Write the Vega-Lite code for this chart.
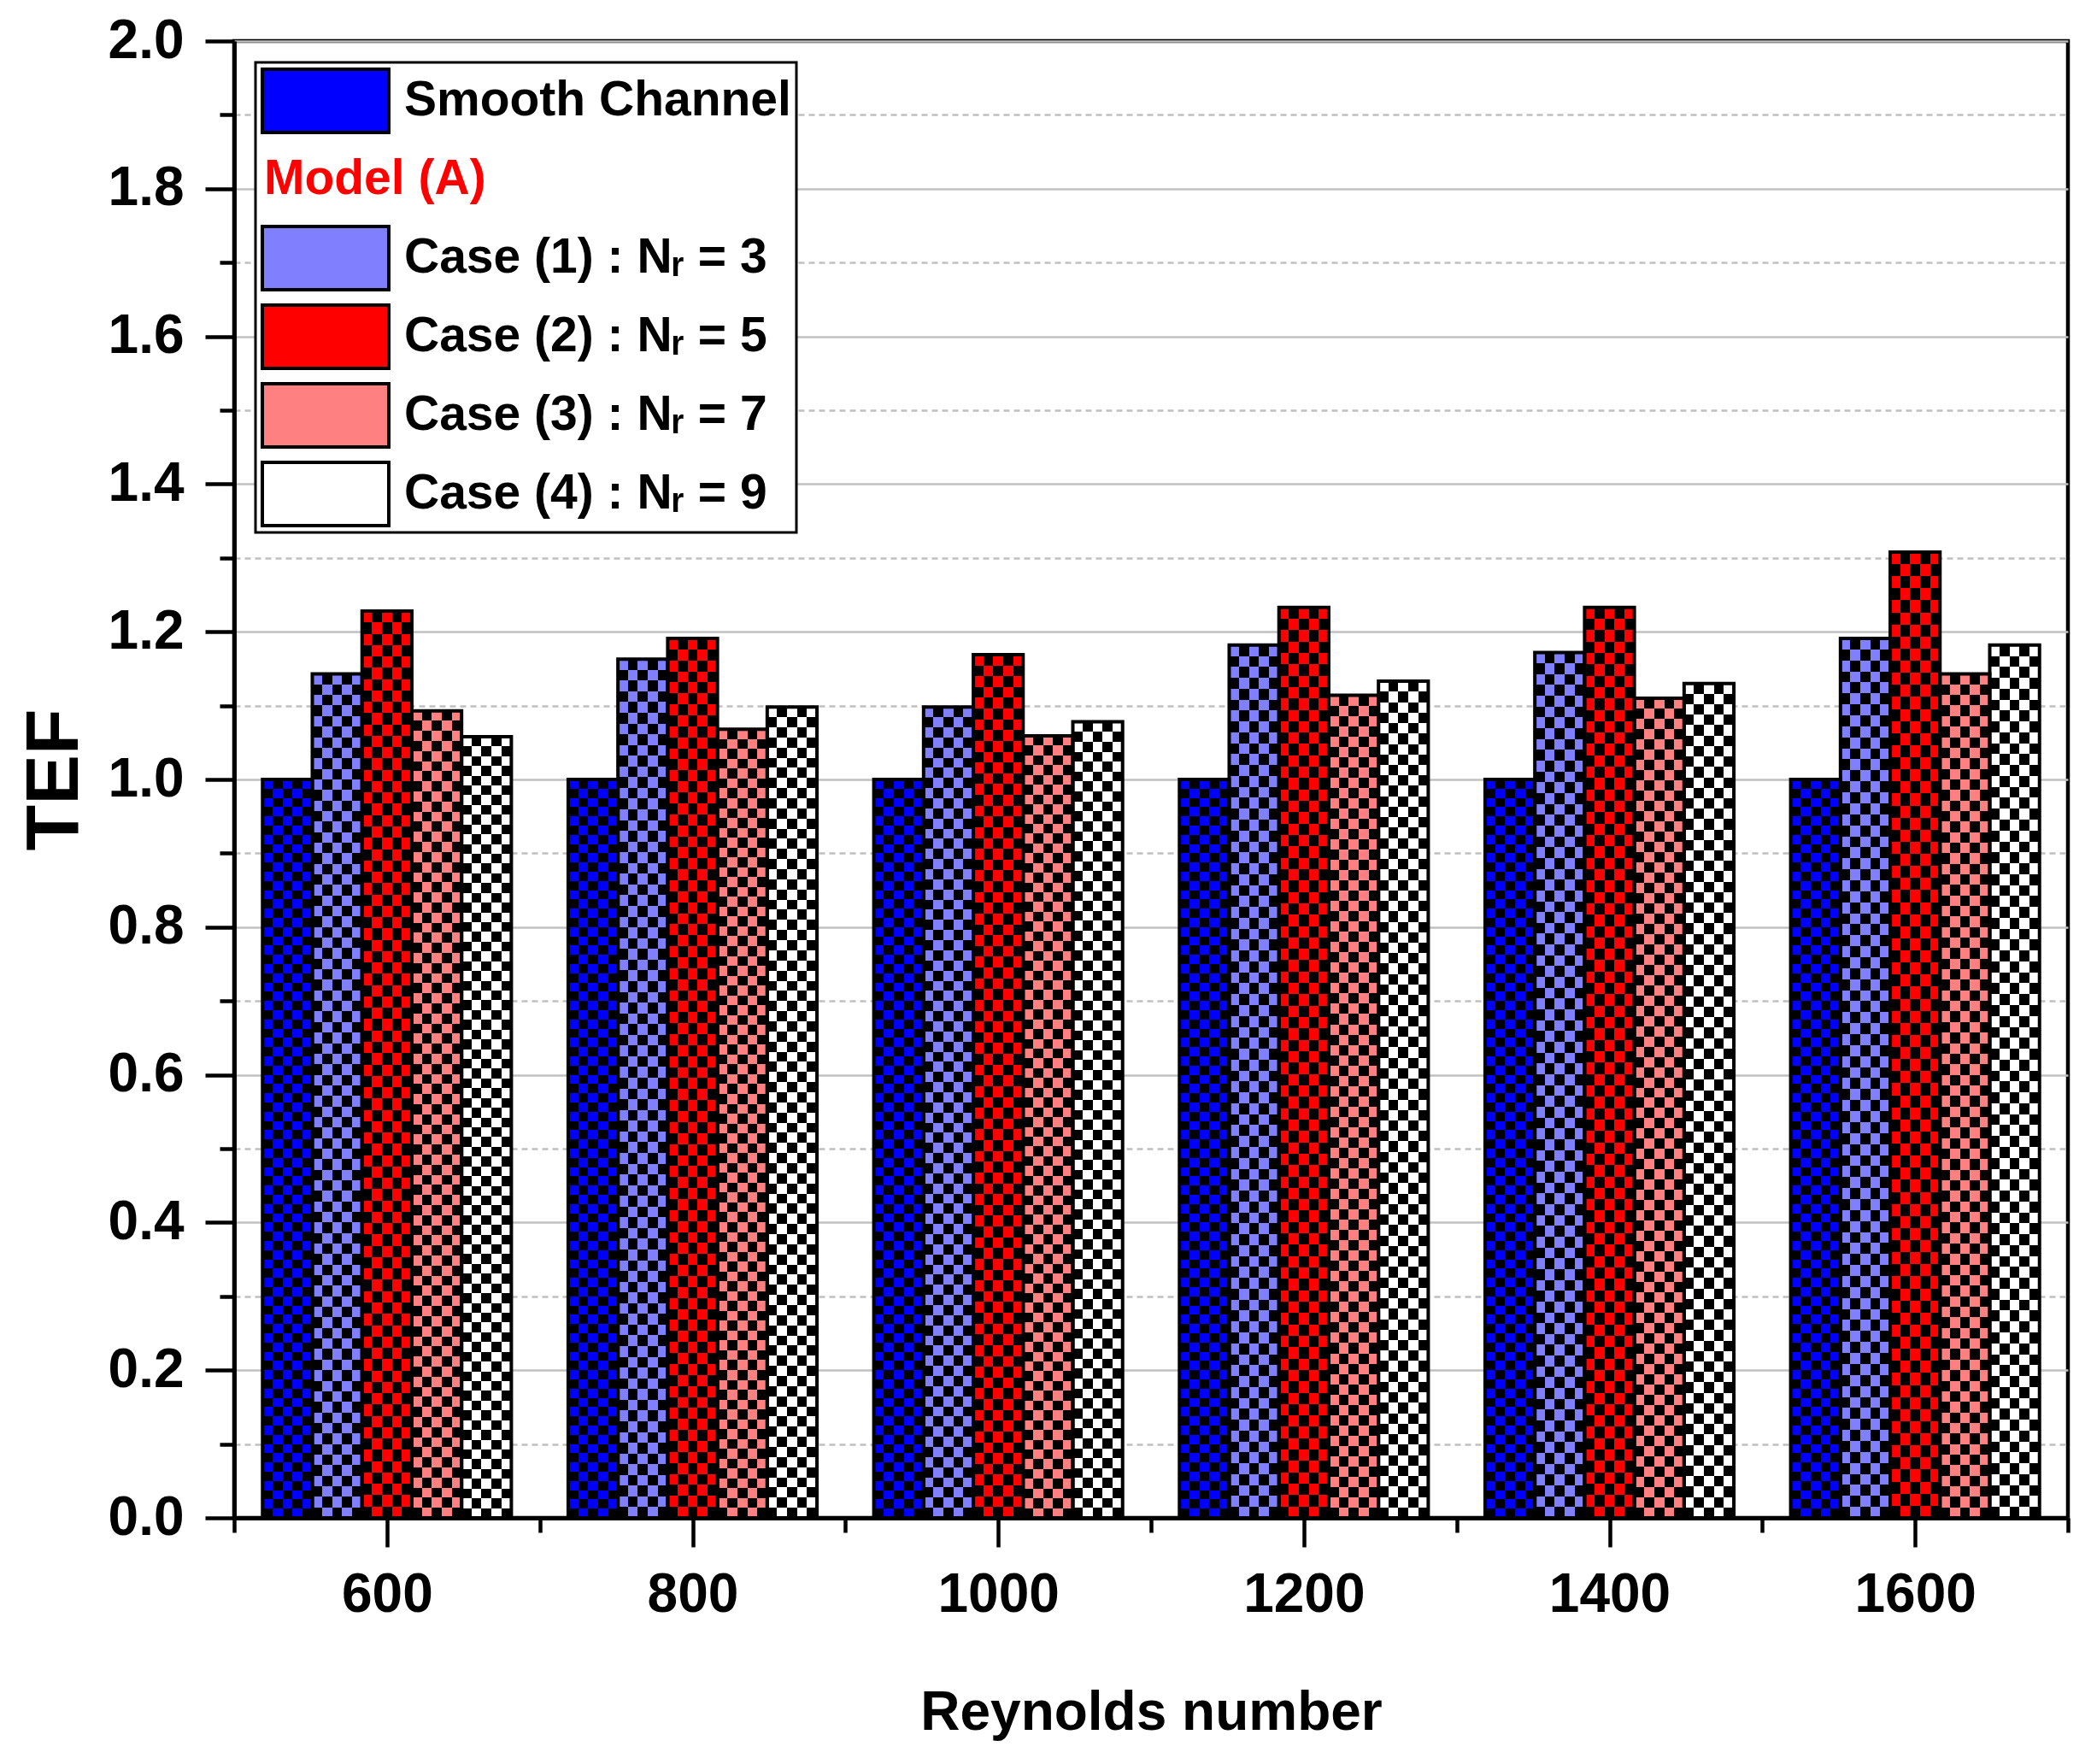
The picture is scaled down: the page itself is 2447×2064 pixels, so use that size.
{
  "$schema": "https://vega.github.io/schema/vega-lite/v6.json",
  "width": 2146,
  "height": 1728,
  "autosize": {"type": "none"},
  "padding": {"left": 274, "top": 48, "right": 27, "bottom": 288},
  "background": "white",
  "config": {
    "font": "Liberation Sans",
    "view": {"stroke": "black", "strokeWidth": 4.5}
  },
  "data": {
    "values": [
      {"Re": 600, "series": "Smooth Channel", "TEF": 1.0},
      {"Re": 600, "series": "Case (1) : Nᵣ = 3", "TEF": 1.143},
      {"Re": 600, "series": "Case (2) : Nᵣ = 5", "TEF": 1.228},
      {"Re": 600, "series": "Case (3) : Nᵣ = 7", "TEF": 1.093},
      {"Re": 600, "series": "Case (4) : Nᵣ = 9", "TEF": 1.058},
      {"Re": 800, "series": "Smooth Channel", "TEF": 1.0},
      {"Re": 800, "series": "Case (1) : Nᵣ = 3", "TEF": 1.163},
      {"Re": 800, "series": "Case (2) : Nᵣ = 5", "TEF": 1.191},
      {"Re": 800, "series": "Case (3) : Nᵣ = 7", "TEF": 1.068},
      {"Re": 800, "series": "Case (4) : Nᵣ = 9", "TEF": 1.098},
      {"Re": 1000, "series": "Smooth Channel", "TEF": 1.0},
      {"Re": 1000, "series": "Case (1) : Nᵣ = 3", "TEF": 1.098},
      {"Re": 1000, "series": "Case (2) : Nᵣ = 5", "TEF": 1.169},
      {"Re": 1000, "series": "Case (3) : Nᵣ = 7", "TEF": 1.059},
      {"Re": 1000, "series": "Case (4) : Nᵣ = 9", "TEF": 1.078},
      {"Re": 1200, "series": "Smooth Channel", "TEF": 1.0},
      {"Re": 1200, "series": "Case (1) : Nᵣ = 3", "TEF": 1.182},
      {"Re": 1200, "series": "Case (2) : Nᵣ = 5", "TEF": 1.233},
      {"Re": 1200, "series": "Case (3) : Nᵣ = 7", "TEF": 1.114},
      {"Re": 1200, "series": "Case (4) : Nᵣ = 9", "TEF": 1.133},
      {"Re": 1400, "series": "Smooth Channel", "TEF": 1.0},
      {"Re": 1400, "series": "Case (1) : Nᵣ = 3", "TEF": 1.172},
      {"Re": 1400, "series": "Case (2) : Nᵣ = 5", "TEF": 1.233},
      {"Re": 1400, "series": "Case (3) : Nᵣ = 7", "TEF": 1.11},
      {"Re": 1400, "series": "Case (4) : Nᵣ = 9", "TEF": 1.13},
      {"Re": 1600, "series": "Smooth Channel", "TEF": 1.0},
      {"Re": 1600, "series": "Case (1) : Nᵣ = 3", "TEF": 1.191},
      {"Re": 1600, "series": "Case (2) : Nᵣ = 5", "TEF": 1.308},
      {"Re": 1600, "series": "Case (3) : Nᵣ = 7", "TEF": 1.143},
      {"Re": 1600, "series": "Case (4) : Nᵣ = 9", "TEF": 1.182}
    ]
  },
  "encoding": {
    "y": {"field": "TEF", "type": "quantitative", "scale": {"domain": [0, 2], "nice": false}, "axis": null}
  },
  "layer": [
    {
      "mark": {"type": "point", "opacity": 0},
      "encoding": {
        "x": {
          "field": "Re",
          "type": "quantitative",
          "scale": {"domain": [500, 1700], "nice": false, "zero": false},
          "axis": {
            "orient": "bottom",
            "values": [500, 700, 900, 1100, 1300, 1500, 1700],
            "labels": false,
            "domain": false,
            "grid": false,
            "title": null,
            "tickSize": 17,
            "tickWidth": 4.5,
            "tickColor": "black"
          }
        },
        "y": {
          "field": "TEF",
          "type": "quantitative",
          "scale": {"domain": [0, 2], "nice": false},
          "axis": {
            "orient": "left",
            "values": [0.1, 0.3, 0.5, 0.7, 0.9, 1.1, 1.3, 1.5, 1.7, 1.9],
            "labels": false,
            "domain": false,
            "title": null,
            "tickSize": 17,
            "tickWidth": 4.5,
            "tickColor": "black",
            "grid": true,
            "gridColor": "#c0c0c0",
            "gridWidth": 2.5,
            "gridDash": [7, 5]
          }
        }
      }
    },
    {
      "mark": {"type": "point", "opacity": 0},
      "encoding": {
        "x": {
          "field": "Re",
          "type": "quantitative",
          "scale": {"domain": [500, 1700], "nice": false, "zero": false},
          "axis": {
            "orient": "bottom",
            "values": [600, 800, 1000, 1200, 1400, 1600],
            "format": "d",
            "labelOverlap": false,
            "labelFlush": false,
            "labelFont": "Liberation Sans",
            "labelFontSize": 64,
            "labelFontWeight": "bold",
            "labelColor": "black",
            "labelPadding": 24,
            "tickSize": 34,
            "tickWidth": 4.5,
            "tickColor": "black",
            "domainColor": "black",
            "domainWidth": 5,
            "grid": false,
            "title": "Reynolds number",
            "titleFont": "Liberation Sans",
            "titleFontSize": 64,
            "titleFontWeight": "bold",
            "titleColor": "black",
            "titleBaseline": "alphabetic",
            "titleY": 247
          }
        },
        "y": {
          "field": "TEF",
          "type": "quantitative",
          "scale": {"domain": [0, 2], "nice": false},
          "axis": {
            "orient": "left",
            "values": [0, 0.2, 0.4, 0.6, 0.8, 1, 1.2, 1.4, 1.6, 1.8, 2],
            "format": ".1f",
            "labelOverlap": false,
            "labelFont": "Liberation Sans",
            "labelFontSize": 64,
            "labelFontWeight": "bold",
            "labelColor": "black",
            "labelPadding": 25,
            "tickSize": 34,
            "tickWidth": 4.5,
            "tickColor": "black",
            "domainColor": "black",
            "domainWidth": 5,
            "grid": true,
            "gridColor": "#c0c0c0",
            "gridWidth": 2.5,
            "title": "TEF",
            "titleFont": "Liberation Sans",
            "titleFontSize": 88,
            "titleFontWeight": "bold",
            "titleColor": "black",
            "titleBaseline": "alphabetic",
            "titleX": -184,
            "titleY": 864
          }
        }
      }
    },
    {
      "mark": {
        "type": "bar",
        "fill": {
          "gradient": "linear", "x1": 0, "y1": 0, "x2": 1, "y2": 0,
          "stops": [
            {"offset": 0, "color": "#fff"}, {"offset": 0.2, "color": "#fff"},
            {"offset": 0.2, "color": "#000"}, {"offset": 0.4, "color": "#000"},
            {"offset": 0.4, "color": "#fff"}, {"offset": 0.6, "color": "#fff"},
            {"offset": 0.6, "color": "#000"}, {"offset": 0.8, "color": "#000"},
            {"offset": 0.8, "color": "#fff"}, {"offset": 1, "color": "#fff"}
          ]
        }
      },
      "encoding": {
        "x": {"field": "Re", "type": "ordinal", "scale": {"paddingInner": 0.186, "paddingOuter": 0.093}, "axis": null},
        "xOffset": {"field": "series", "type": "nominal", "scale": {"domain": ["Smooth Channel", "Case (1) : Nᵣ = 3", "Case (2) : Nᵣ = 5", "Case (3) : Nᵣ = 7", "Case (4) : Nᵣ = 9"], "paddingInner": 0, "paddingOuter": 0}}
      }
    },
    {
      "mark": {
        "type": "bar",
        "blend": "difference",
        "fill": {
          "gradient": "linear", "x1": 0, "y1": 0, "x2": 0, "y2": 1,
          "stops": [
            {"offset": 0, "color": "#000"},
            {"offset": 0.0125, "color": "#000"}, {"offset": 0.0125, "color": "#fff"},
            {"offset": 0.025, "color": "#fff"}, {"offset": 0.025, "color": "#000"},
            {"offset": 0.0375, "color": "#000"}, {"offset": 0.0375, "color": "#fff"},
            {"offset": 0.05, "color": "#fff"}, {"offset": 0.05, "color": "#000"},
            {"offset": 0.0625, "color": "#000"}, {"offset": 0.0625, "color": "#fff"},
            {"offset": 0.075, "color": "#fff"}, {"offset": 0.075, "color": "#000"},
            {"offset": 0.0875, "color": "#000"}, {"offset": 0.0875, "color": "#fff"},
            {"offset": 0.1, "color": "#fff"}, {"offset": 0.1, "color": "#000"},
            {"offset": 0.1125, "color": "#000"}, {"offset": 0.1125, "color": "#fff"},
            {"offset": 0.125, "color": "#fff"}, {"offset": 0.125, "color": "#000"},
            {"offset": 0.1375, "color": "#000"}, {"offset": 0.1375, "color": "#fff"},
            {"offset": 0.15, "color": "#fff"}, {"offset": 0.15, "color": "#000"},
            {"offset": 0.1625, "color": "#000"}, {"offset": 0.1625, "color": "#fff"},
            {"offset": 0.175, "color": "#fff"}, {"offset": 0.175, "color": "#000"},
            {"offset": 0.1875, "color": "#000"}, {"offset": 0.1875, "color": "#fff"},
            {"offset": 0.2, "color": "#fff"}, {"offset": 0.2, "color": "#000"},
            {"offset": 0.2125, "color": "#000"}, {"offset": 0.2125, "color": "#fff"},
            {"offset": 0.225, "color": "#fff"}, {"offset": 0.225, "color": "#000"},
            {"offset": 0.2375, "color": "#000"}, {"offset": 0.2375, "color": "#fff"},
            {"offset": 0.25, "color": "#fff"}, {"offset": 0.25, "color": "#000"},
            {"offset": 0.2625, "color": "#000"}, {"offset": 0.2625, "color": "#fff"},
            {"offset": 0.275, "color": "#fff"}, {"offset": 0.275, "color": "#000"},
            {"offset": 0.2875, "color": "#000"}, {"offset": 0.2875, "color": "#fff"},
            {"offset": 0.3, "color": "#fff"}, {"offset": 0.3, "color": "#000"},
            {"offset": 0.3125, "color": "#000"}, {"offset": 0.3125, "color": "#fff"},
            {"offset": 0.325, "color": "#fff"}, {"offset": 0.325, "color": "#000"},
            {"offset": 0.3375, "color": "#000"}, {"offset": 0.3375, "color": "#fff"},
            {"offset": 0.35, "color": "#fff"}, {"offset": 0.35, "color": "#000"},
            {"offset": 0.3625, "color": "#000"}, {"offset": 0.3625, "color": "#fff"},
            {"offset": 0.375, "color": "#fff"}, {"offset": 0.375, "color": "#000"},
            {"offset": 0.3875, "color": "#000"}, {"offset": 0.3875, "color": "#fff"},
            {"offset": 0.4, "color": "#fff"}, {"offset": 0.4, "color": "#000"},
            {"offset": 0.4125, "color": "#000"}, {"offset": 0.4125, "color": "#fff"},
            {"offset": 0.425, "color": "#fff"}, {"offset": 0.425, "color": "#000"},
            {"offset": 0.4375, "color": "#000"}, {"offset": 0.4375, "color": "#fff"},
            {"offset": 0.45, "color": "#fff"}, {"offset": 0.45, "color": "#000"},
            {"offset": 0.4625, "color": "#000"}, {"offset": 0.4625, "color": "#fff"},
            {"offset": 0.475, "color": "#fff"}, {"offset": 0.475, "color": "#000"},
            {"offset": 0.4875, "color": "#000"}, {"offset": 0.4875, "color": "#fff"},
            {"offset": 0.5, "color": "#fff"}, {"offset": 0.5, "color": "#000"},
            {"offset": 0.5125, "color": "#000"}, {"offset": 0.5125, "color": "#fff"},
            {"offset": 0.525, "color": "#fff"}, {"offset": 0.525, "color": "#000"},
            {"offset": 0.5375, "color": "#000"}, {"offset": 0.5375, "color": "#fff"},
            {"offset": 0.55, "color": "#fff"}, {"offset": 0.55, "color": "#000"},
            {"offset": 0.5625, "color": "#000"}, {"offset": 0.5625, "color": "#fff"},
            {"offset": 0.575, "color": "#fff"}, {"offset": 0.575, "color": "#000"},
            {"offset": 0.5875, "color": "#000"}, {"offset": 0.5875, "color": "#fff"},
            {"offset": 0.6, "color": "#fff"}, {"offset": 0.6, "color": "#000"},
            {"offset": 0.6125, "color": "#000"}, {"offset": 0.6125, "color": "#fff"},
            {"offset": 0.625, "color": "#fff"}, {"offset": 0.625, "color": "#000"},
            {"offset": 0.6375, "color": "#000"}, {"offset": 0.6375, "color": "#fff"},
            {"offset": 0.65, "color": "#fff"}, {"offset": 0.65, "color": "#000"},
            {"offset": 0.6625, "color": "#000"}, {"offset": 0.6625, "color": "#fff"},
            {"offset": 0.675, "color": "#fff"}, {"offset": 0.675, "color": "#000"},
            {"offset": 0.6875, "color": "#000"}, {"offset": 0.6875, "color": "#fff"},
            {"offset": 0.7, "color": "#fff"}, {"offset": 0.7, "color": "#000"},
            {"offset": 0.7125, "color": "#000"}, {"offset": 0.7125, "color": "#fff"},
            {"offset": 0.725, "color": "#fff"}, {"offset": 0.725, "color": "#000"},
            {"offset": 0.7375, "color": "#000"}, {"offset": 0.7375, "color": "#fff"},
            {"offset": 0.75, "color": "#fff"}, {"offset": 0.75, "color": "#000"},
            {"offset": 0.7625, "color": "#000"}, {"offset": 0.7625, "color": "#fff"},
            {"offset": 0.775, "color": "#fff"}, {"offset": 0.775, "color": "#000"},
            {"offset": 0.7875, "color": "#000"}, {"offset": 0.7875, "color": "#fff"},
            {"offset": 0.8, "color": "#fff"}, {"offset": 0.8, "color": "#000"},
            {"offset": 0.8125, "color": "#000"}, {"offset": 0.8125, "color": "#fff"},
            {"offset": 0.825, "color": "#fff"}, {"offset": 0.825, "color": "#000"},
            {"offset": 0.8375, "color": "#000"}, {"offset": 0.8375, "color": "#fff"},
            {"offset": 0.85, "color": "#fff"}, {"offset": 0.85, "color": "#000"},
            {"offset": 0.8625, "color": "#000"}, {"offset": 0.8625, "color": "#fff"},
            {"offset": 0.875, "color": "#fff"}, {"offset": 0.875, "color": "#000"},
            {"offset": 0.8875, "color": "#000"}, {"offset": 0.8875, "color": "#fff"},
            {"offset": 0.9, "color": "#fff"}, {"offset": 0.9, "color": "#000"},
            {"offset": 0.9125, "color": "#000"}, {"offset": 0.9125, "color": "#fff"},
            {"offset": 0.925, "color": "#fff"}, {"offset": 0.925, "color": "#000"},
            {"offset": 0.9375, "color": "#000"}, {"offset": 0.9375, "color": "#fff"},
            {"offset": 0.95, "color": "#fff"}, {"offset": 0.95, "color": "#000"},
            {"offset": 0.9625, "color": "#000"}, {"offset": 0.9625, "color": "#fff"},
            {"offset": 0.975, "color": "#fff"}, {"offset": 0.975, "color": "#000"},
            {"offset": 0.9875, "color": "#000"}, {"offset": 0.9875, "color": "#fff"},
            {"offset": 1, "color": "#fff"}
          ]
        }
      },
      "encoding": {
        "x": {"field": "Re", "type": "ordinal", "scale": {"paddingInner": 0.186, "paddingOuter": 0.093}, "axis": null},
        "xOffset": {"field": "series", "type": "nominal", "scale": {"domain": ["Smooth Channel", "Case (1) : Nᵣ = 3", "Case (2) : Nᵣ = 5", "Case (3) : Nᵣ = 7", "Case (4) : Nᵣ = 9"], "paddingInner": 0, "paddingOuter": 0}}
      }
    },
    {
      "mark": {"type": "bar", "blend": "multiply"},
      "encoding": {
        "x": {"field": "Re", "type": "ordinal", "scale": {"paddingInner": 0.186, "paddingOuter": 0.093}, "axis": null},
        "xOffset": {"field": "series", "type": "nominal", "scale": {"domain": ["Smooth Channel", "Case (1) : Nᵣ = 3", "Case (2) : Nᵣ = 5", "Case (3) : Nᵣ = 7", "Case (4) : Nᵣ = 9"], "paddingInner": 0, "paddingOuter": 0}},
        "color": {
          "field": "series",
          "type": "nominal",
          "scale": {
            "domain": ["Smooth Channel", "Model (A)", "Case (1) : Nᵣ = 3", "Case (2) : Nᵣ = 5", "Case (3) : Nᵣ = 7", "Case (4) : Nᵣ = 9"],
            "range": ["#0000ff", "transparent", "#8080ff", "#ff0000", "#ff8080", "#ffffff"]
          },
          "legend": {
            "title": null,
            "orient": "top-left",
            "offset": 25,
            "padding": 6,
            "fillColor": "white",
            "strokeColor": "black",
            "symbolType": "M-1,-0.5H1V0.5H-1Z",
            "symbolSize": 21904,
            "symbolStrokeColor": "black",
            "symbolStrokeWidth": 4,
            "symbolOpacity": 1,
            "clipHeight": 78,
            "rowPadding": 14,
            "labelFont": "Liberation Sans",
            "labelFontSize": 57,
            "labelFontWeight": "bold",
            "labelColor": "black",
            "labelOffset": 16,
            "labelLimit": 1000,
            "encode": {
              "legend": {"update": {"strokeWidth": {"value": 3}}},
              "symbols": {"update": {
                "stroke": {"signal": "datum.value === 'Model (A)' ? 'transparent' : 'black'"}
              }},
              "labels": {"update": {
                "fill": {"signal": "datum.value === 'Model (A)' ? '#ff0000' : '#000000'"},
                "dx": {"signal": "datum.value === 'Model (A)' ? -164 : 0"}
              }}
            }
          }
        }
      }
    },
    {
      "mark": {"type": "bar", "fill": "transparent", "stroke": "black", "strokeWidth": 4},
      "encoding": {
        "x": {"field": "Re", "type": "ordinal", "scale": {"paddingInner": 0.186, "paddingOuter": 0.093}, "axis": null},
        "xOffset": {"field": "series", "type": "nominal", "scale": {"domain": ["Smooth Channel", "Case (1) : Nᵣ = 3", "Case (2) : Nᵣ = 5", "Case (3) : Nᵣ = 7", "Case (4) : Nᵣ = 9"], "paddingInner": 0, "paddingOuter": 0}}
      }
    }
  ],
  "resolve": {
    "scale": {"x": "independent", "y": "independent"},
    "axis": {"x": "independent", "y": "independent"}
  }
}
